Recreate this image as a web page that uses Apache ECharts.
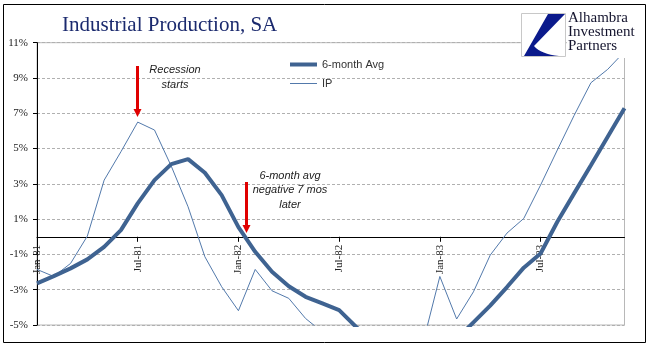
<!DOCTYPE html>
<html><head><meta charset="utf-8">
<script src="https://cdn.jsdelivr.net/npm/echarts@6/dist/echarts.min.js"></script>
<style>html,body{margin:0;padding:0;background:#fff}#c{width:670px;height:358px}</style>
</head><body><div id="c"></div>
<script>
const months = ['Jan-81','Feb-81','Mar-81','Apr-81','May-81','Jun-81','Jul-81','Aug-81','Sep-81','Oct-81','Nov-81','Dec-81',
  'Jan-82','Feb-82','Mar-82','Apr-82','May-82','Jun-82','Jul-82','Aug-82','Sep-82','Oct-82','Nov-82','Dec-82',
  'Jan-83','Feb-83','Mar-83','Apr-83','May-83','Jun-83','Jul-83','Aug-83','Sep-83','Oct-83','Nov-83','Dec-83'];
const avg6 = [-2.64,-2.23,-1.79,-1.28,-0.57,0.38,1.89,3.21,4.12,4.40,3.63,2.36,
  0.55,-0.85,-1.98,-2.80,-3.40,-3.78,-4.16,-5.1,-5.9,-6.6,-6.9,-6.9,
  -6.6,-5.8,-4.85,-3.9,-2.85,-1.75,-0.95,0.85,2.46,4.06,5.67,7.28];
const ip = [-1.85,-2.25,-1.51,0.04,3.21,4.82,6.50,6.05,4.0,1.70,-1.13,-2.83,
  -4.19,-1.85,-3.06,-3.49,-4.63,-5.4,-6.5,-7.5,-8.2,-8.5,-8.0,-6.0,
  -2.25,-4.66,-3.12,-1.04,0.21,1.04,2.93,4.92,6.88,8.73,9.49,10.49];
const seriesNames = ['6-month Avg','IP'];
const yMin = -5, yMax = 11, yStep = 2;
const titleText = 'Industrial Production, SA';
const logoLines = ['Alhambra','Investment','Partners'];
const note1 = ['Recession','starts'];
const note2 = ['6-month avg','negative 7 mos','later'];

const W = 670, H = 358;
const gridTop = 42.7, gridBottom = 33;
const plotH = H - gridTop - gridBottom;
// shift the category axis up so it sits on the zero line (as in the reference)
const zeroOffset = -plotH * (0 - yMin) / (yMax - yMin);

const chart = echarts.init(document.getElementById('c'));
const serif = 'Liberation Serif';
const sans = 'Liberation Sans';
const noteStyle = (t, x, y) => ({type:'text', x:x, y:y, z:50,
  style:{text:t, font:'italic 11px "Liberation Sans"', fill:'#222', align:'center', verticalAlign:'middle'}});
const arrow = (x, y1, y2) => ([
  {type:'line', z:50, shape:{x1:x, y1:y1, x2:x, y2:y2-6}, style:{stroke:'#e00000', lineWidth:3}},
  {type:'polygon', z:50, shape:{points:[[x-4,y2-8],[x+4,y2-8],[x,y2]]}, style:{fill:'#e00000'}}
]);
const logoPts = [[548,14],[565,14],[534,46]];
for (let k = 1; k <= 8; k++) {
  const t = k / 8, a = (1-t)*(1-t), b = 2*(1-t)*t, c = t*t;
  logoPts.push([a*534 + b*541 + c*559, a*46 + b*54 + c*56]);
}
logoPts.push([524,56]);
chart.setOption({
  animation:false,
  grid:{left:37, right:45.5, top:gridTop, bottom:gridBottom, show:true, borderColor:'#b8b8b8', borderWidth:1, containLabel:false},
  xAxis:{type:'category', data:months, boundaryGap:false, offset:zeroOffset,
    axisLine:{onZero:false, lineStyle:{color:'#000', width:1}},
    axisTick:{interval:5, length:5, lineStyle:{color:'#000'}},
    axisLabel:{interval:5, rotate:90, margin:8, fontFamily:serif, fontSize:11, color:'#222'},
    splitLine:{show:false}},
  yAxis:{type:'value', min:yMin, max:yMax, interval:yStep,
    axisLine:{show:true, lineStyle:{color:'#000', width:1}},
    axisTick:{show:true, length:4, lineStyle:{color:'#000'}},
    axisLabel:{formatter:'{value}%', margin:9, fontFamily:serif, fontSize:11, color:'#222'},
    splitLine:{lineStyle:{color:'#b0b0b0', type:[3,2], width:1}}},
  legend:{orient:'vertical', left:285, top:54, itemWidth:27, itemHeight:12, itemGap:8,
    textStyle:{fontFamily:sans, fontSize:11, color:'#333'},
    data:[{name:seriesNames[0], icon:'path://M0,0H27V4H0Z'},{name:seriesNames[1], icon:'path://M0,0H27V1H0Z'}]},
  series:[
    {name:seriesNames[0], type:'line', data:avg6, symbol:'none', clip:true, z:3,
      lineStyle:{color:'#3f6391', width:4}, itemStyle:{color:'#3f6391'}},
    {name:seriesNames[1], type:'line', data:ip, symbol:'none', clip:true, z:2,
      lineStyle:{color:'#5279ab', width:1}, itemStyle:{color:'#5279ab'}}
  ],
  graphic:[
    {type:'rect', shape:{x:3.5, y:4.5, width:642, height:338}, style:{fill:'none', stroke:'#000', lineWidth:1}, z:60},
    {type:'text', x:62, y:25, z:60, style:{text:titleText, font:'21px "Liberation Serif"', fill:'#1b2a6e', verticalAlign:'middle'}},
    {type:'rect', shape:{x:567, y:10, width:76, height:48}, style:{fill:'#fff'}, z:59},
    {type:'rect', shape:{x:521.5, y:13.5, width:44, height:43}, style:{fill:'#fff', stroke:'#c8c8c8', lineWidth:1}, z:60},
    {type:'polygon', z:61, shape:{points:logoPts}, style:{fill:'#0b1a8c'}},
    {type:'text', x:568, y:18, z:61, style:{text:logoLines[0], font:'15px "Liberation Serif"', fill:'#14142e', verticalAlign:'middle'}},
    {type:'text', x:568, y:32, z:61, style:{text:logoLines[1], font:'15px "Liberation Serif"', fill:'#14142e', verticalAlign:'middle'}},
    {type:'text', x:568, y:46, z:61, style:{text:logoLines[2], font:'15px "Liberation Serif"', fill:'#14142e', verticalAlign:'middle'}},
    noteStyle(note1[0], 175, 70), noteStyle(note1[1], 175, 85),
    noteStyle(note2[0], 290, 176), noteStyle(note2[1], 290, 190), noteStyle(note2[2], 290, 205),
    ...arrow(137.5, 66, 117),
    ...arrow(246.5, 182, 233)
  ]
});
</script></body></html>
